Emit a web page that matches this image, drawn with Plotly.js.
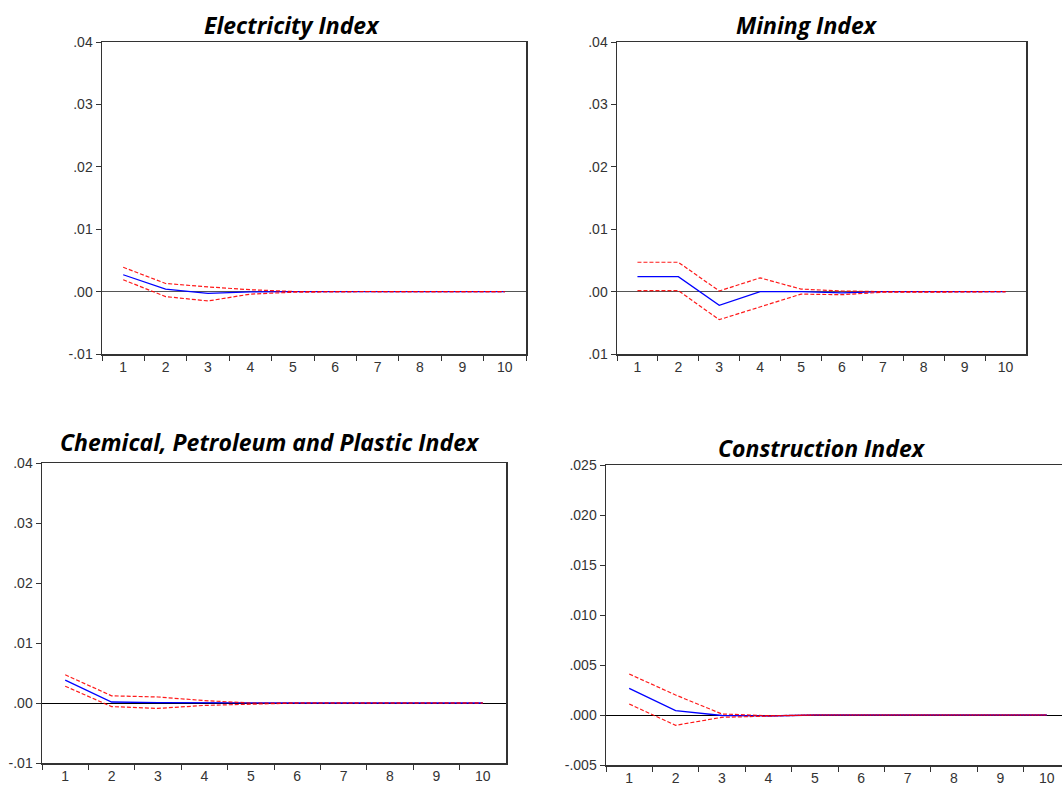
<!DOCTYPE html>
<html><head><meta charset="utf-8">
<script src="https://cdn.plot.ly/plotly-3.0.1.min.js"></script>
<style>html,body{margin:0;padding:0;overflow:hidden;background:#fff}#chart{width:1080px;height:787px}</style>
</head><body><div id="chart"></div>
<script>
// ---- data ----
const periods = ["1","2","3","4","5","6","7","8","9","10"];

const elecResp  = [0.0027, 0.0004, -0.0003, -0.00005, 0, 0, 0, 0, 0, 0];
const elecUpper = [0.0039, 0.0013, 0.00075, 0.0003, 0.00002, 0, 0, 0, 0, 0];
const elecLower = [0.0019, -0.0008, -0.0015, -0.0004, -0.0001, 0, 0, 0, 0, 0];

const minResp  = [0.0024, 0.0024, -0.0022, 0, 0, -0.0002, 0, 0, 0, 0];
const minUpper = [0.0047, 0.0047, 0.0001, 0.0022, 0.0004, 0.0001, 0, 0, 0, 0];
const minLower = [0.00015, 0.00015, -0.0045, -0.0024, -0.0004, -0.0005, -0.0001, -0.0001, -0.0001, 0];

const chemResp  = [0.0038, 0.00017, 0.00005, 0, 0, 0, 0, 0, 0, 0];
const chemUpper = [0.0047, 0.0012, 0.001, 0.0004, 0, 0, 0, 0, 0, 0];
const chemLower = [0.0028, -0.0006, -0.0009, -0.0004, -0.0002, 0, 0, 0, 0, 0];

const consResp  = [0.00267, 0.00043, -0.00005, -0.0001, 0, 0, 0, 0, 0, 0];
const consUpper = [0.0041, 0.002, 0.0001, -0.00007, 0, 0, 0, 0, 0, 0];
const consLower = [0.0011, -0.00103, -0.00023, -0.00013, 0, 0, 0, 0, 0, 0];

const titles = ["Electricity Index", "Mining Index", "Chemical, Petroleum and Plastic Index", "Construction Index"];

const ticks4 = [-0.01, 0, 0.01, 0.02, 0.03, 0.04];
const ticks4Text = ["-.01", ".00", ".01", ".02", ".03", ".04"];
const ticks4TextMining = [".01", ".00", ".01", ".02", ".03", ".04"];
const ticksCons = [-0.005, 0, 0.005, 0.010, 0.015, 0.020, 0.025];
const ticksConsText = ["-.005", ".000", ".005", ".010", ".015", ".020", ".025"];

// ---- layout helpers ----
const W = 1080, H = 787;
const px = x => x / W;
const py = y => 1 - y / H;

const tickFont = {family: "'Liberation Sans Narrow','Arial Narrow','Liberation Sans',Arial,sans-serif", size: 14, color: "#333"};
const titleFont = {family: "'Open Sans','Noto Sans',sans-serif", size: 23, color: "#000", weight: 700, style: "italic"};

function xAxis(x0, x1, anchor) {
  return {
    domain: [px(x0), px(x1)], anchor: anchor, type: "category",
    range: [-0.5, 9.5], tickson: "boundaries", ticks: "outside", ticklen: 5, tickcolor: "#333", tickwidth: 1,
    showline: true, linecolor: "#333", linewidth: 1.5, mirror: true, showgrid: false, zeroline: false,
    tickfont: tickFont, fixedrange: true
  };
}
function yAxis(y0, y1, anchor, range, vals, text, zc, zw) {
  return {
    domain: [py(y1), py(y0)], anchor: anchor, range: range,
    tickmode: "array", tickvals: vals, ticktext: text,
    ticks: "outside", ticklen: 5, tickcolor: "#333", tickwidth: 1,
    showline: true, linecolor: "#333", linewidth: 1.5, mirror: true, showgrid: false,
    zeroline: true, zerolinecolor: zc, zerolinewidth: zw,
    tickfont: tickFont, fixedrange: true
  };
}

function panel(n, resp, up, lo) {
  const xa = n === 1 ? "x" : "x" + n, ya = n === 1 ? "y" : "y" + n;
  const red = {color: "rgba(255,0,0,0.9)", width: 1.2, dash: "4px,2px"};
  return [
    {x: periods, y: resp, xaxis: xa, yaxis: ya, mode: "lines", line: {color: "#0000ff", width: 1.3}, hoverinfo: "skip"},
    {x: periods, y: up, xaxis: xa, yaxis: ya, mode: "lines", line: red, hoverinfo: "skip"},
    {x: periods, y: lo, xaxis: xa, yaxis: ya, mode: "lines", line: red, hoverinfo: "skip"}
  ];
}

const data = [].concat(
  panel(1, elecResp, elecUpper, elecLower),
  panel(2, minResp, minUpper, minLower),
  panel(3, chemResp, chemUpper, chemLower),
  panel(4, consResp, consUpper, consLower)
);

const layout = {
  width: W, height: H, margin: {l: 0, r: 0, t: 0, b: 0},
  paper_bgcolor: "#fff", plot_bgcolor: "#fff", showlegend: false,
  xaxis:  xAxis(102, 526, "y"),
  yaxis:  yAxis(42, 354, "x", [-0.01, 0.04], ticks4, ticks4Text, "#555", 1.5),
  xaxis2: xAxis(617, 1026, "y2"),
  yaxis2: yAxis(42, 354, "x2", [-0.01, 0.04], ticks4, ticks4TextMining, "#555", 1.5),
  xaxis3: xAxis(42, 506, "y3"),
  yaxis3: yAxis(463, 763, "x3", [-0.01, 0.04], ticks4, ticks4Text, "#000", 1),
  xaxis4: xAxis(606, 1070, "y4"),
  yaxis4: yAxis(465, 765, "x4", [-0.005, 0.025], ticksCons, ticksConsText, "#000", 1),
  annotations: [
    {text: titles[0], x: px(292), y: py(25)},
    {text: titles[1], x: px(807), y: py(25)},
    {text: titles[2], x: px(270), y: py(442)},
    {text: titles[3], x: px(822), y: py(448)}
  ].map(a => Object.assign({xref: "paper", yref: "paper", xanchor: "center", yanchor: "middle", showarrow: false, font: titleFont}, a))
};

Plotly.newPlot("chart", data, layout, {staticPlot: true, displayModeBar: false});
</script>
</body></html>
